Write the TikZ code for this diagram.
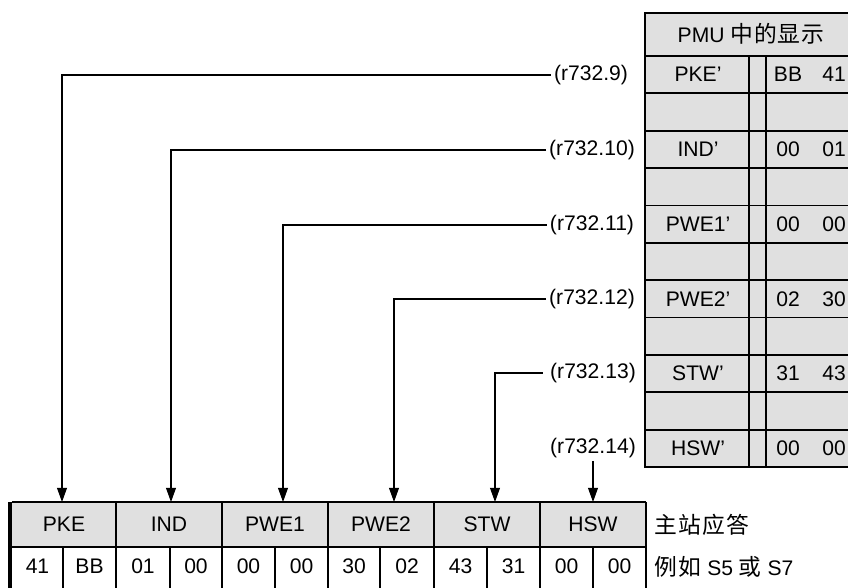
\documentclass[tikz,border=0pt]{standalone}
\usepackage{fontspec}
\setmainfont{Liberation Sans}
\newfontfamily\cjk[Scale=1.08,LetterSpace=4]{Noto Sans CJK SC}
\usetikzlibrary{arrows.meta,positioning}
\definecolor{cellgray}{RGB}{224,224,224}

\begin{document}
\begin{tikzpicture}[x=0.025cm,y=-0.025cm,>={Triangle[width=7pt,length=10pt]},
                    font=\fontsize{15}{17}\selectfont,
                    grid/.style={line width=1.3pt},
                    link/.style={line width=.75pt},
                    reg/.style={inner sep=2pt}]
  \useasboundingbox (0,0) rectangle (848,587);
  \clip (0,0) rectangle (848,587);
  % PMU display table (right)
  \fill[cellgray] (645,13) rectangle (860,467);
  \draw[grid] (860,13) -- (645,13) -- (645,467) -- (860,467);
  \foreach \i in {0,...,10}
    \draw[grid] (645,{56+37.36*\i}) -- (860,{56+37.36*\i});
  \draw[grid] (749,56) -- (749,467) (766,56) -- (766,467);
  \node (pmu) at (751,34) {PMU {\cjk 中的显示}};
  \foreach \nm/\va/\vb [count=\k from 0] in
      {PKE’/BB/41, IND’/00/01, PWE1’/00/00,
       PWE2’/02/30, STW’/31/43, HSW’/00/00} {
    \node (disp\k) at (698,{56+37.36*(2*\k+0.5)}) {\nm};
    \node (dispa\k) at (788,{56+37.36*(2*\k+0.5)}) {\va};
    \node (dispb\k) at (834,{56+37.36*(2*\k+0.5)}) {\vb};
  }
  % master response telegram (bottom)
  \fill[cellgray] (12,502) rectangle (646,547);
  \draw[grid] (646,502) -- (12,502) (12,547) -- (646,547);
  \foreach \x in {116,222,328,434,540,646}
    \draw[grid] (\x,502) -- (\x,590);
  \foreach \x in {63,170,275,380,487,593}
    \draw[grid] (\x,547) -- (\x,590);
  \draw[line width=3.5pt] (10,502) -- (10,590);
  \foreach \nm/\x in {PKE/64, IND/169, PWE1/275, PWE2/381, STW/487, HSW/593}
    \node (h\nm) at (\x,524) {\nm};
  \foreach \v/\x [count=\k] in {41/37.5, BB/89.5, 01/143, 00/196, 00/248.5,
      00/301.5, 30/354, 02/407, 43/460.5, 31/513.5, 00/566.5, 00/619.5}
    \node (d\k) at (\x,566) {\v};
  \node[anchor=west] (answer) at (650,525) {\cjk 主站应答};
  \node[anchor=west] (example) at (650,567) {{\cjk 例如} S5 {\cjk 或} S7};
  % parameter links
  \node[reg] (r9)  at (591,75)  {(r732.9)};
  \node[reg] (r10) at (592,150) {(r732.10)};
  \node[reg] (r11) at (592,225) {(r732.11)};
  \node[reg] (r12) at (592,299) {(r732.12)};
  \node[reg] (r13) at (593,373) {(r732.13)};
  \node[reg] (r14) at (593,448) {(r732.14)};
  \coordinate (tPKE)  at (62,502);
  \coordinate (tIND)  at (171,502);
  \coordinate (tPWE1) at (283,502);
  \coordinate (tPWE2) at (394,502);
  \coordinate (tSTW)  at (495,502);
  \coordinate (tHSW)  at (593,502);
  \draw[link,->] (r9.west)  -| (tPKE);
  \draw[link,->] (r10.west) -| (tIND);
  \draw[link,->] (r11.west) -| (tPWE1);
  \draw[link,->] (r12.west) -| (tPWE2);
  \draw[link,->] ([xshift=-3pt]r13.west) -| (tSTW);
  \draw[link,->] (r14.south) -- (tHSW);
\end{tikzpicture}
\end{document}
